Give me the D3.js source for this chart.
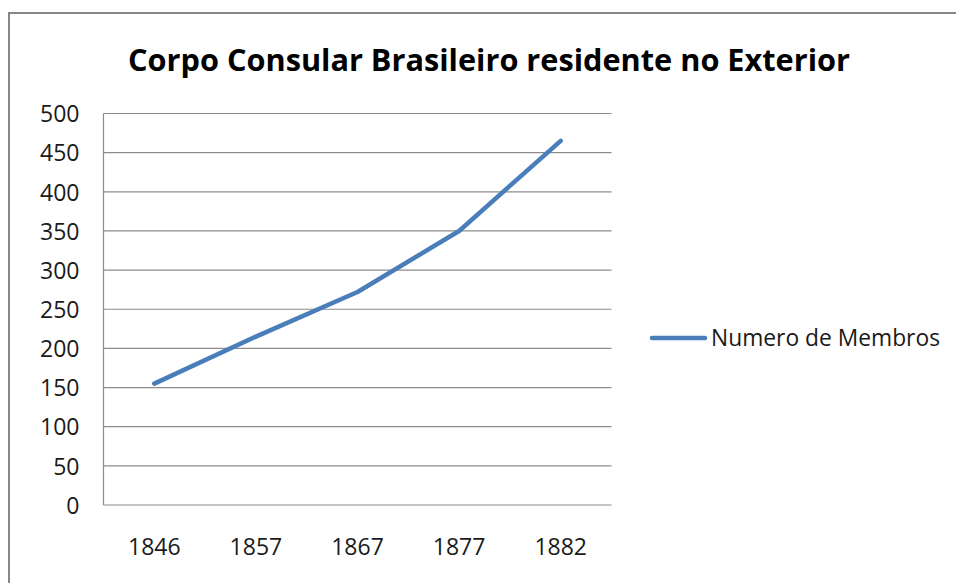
<!DOCTYPE html>
<html><head><meta charset="utf-8">
<script src="https://cdn.jsdelivr.net/npm/d3@7"></script>
<style>
body{margin:0;background:#fff;}
svg{display:block;font-family:"Open Sans","Noto Sans",sans-serif;}
</style></head>
<body>
<svg id="c" width="956" height="583"></svg>
<script>
const title = "Corpo Consular Brasileiro residente no Exterior";
const seriesName = "Numero de Membros";
const years = ["1846","1857","1867","1877","1882"];
const membros = [155, 215, 272, 350, 465];
const yTicks = [0,50,100,150,200,250,300,350,400,450,500];

(function(){
const svg = d3.select("#c");
// frame
svg.append("rect").attr("x",9).attr("y",13).attr("width",960).attr("height",600)
  .attr("fill","#fff").attr("stroke","#868686").attr("stroke-width",2);

const pLeft=103.5, pRight=611.5, pTop=113.5, pBottom=505;
const x = d3.scaleBand().domain(years).range([pLeft,pRight]);
const y = d3.scaleLinear().domain([0,500]).range([pBottom,pTop]);

// gridlines
svg.append("g").selectAll("line").data(yTicks).join("line")
  .attr("x1",pLeft).attr("x2",pRight).attr("y1",d=>y(d)).attr("y2",d=>y(d))
  .attr("stroke","#8c8c8c").attr("stroke-width",1.2);
// y axis line
svg.append("line").attr("x1",pLeft).attr("x2",pLeft).attr("y1",pTop).attr("y2",pBottom)
  .attr("stroke","#8c8c8c").attr("stroke-width",1.2);

// y axis labels
const yAxis = d3.axisLeft(y).tickValues(yTicks).tickSize(0).tickPadding(24);
const gy = svg.append("g").attr("transform",`translate(${pLeft},0)`).call(yAxis);
gy.select(".domain").remove();
gy.selectAll("text").attr("font-size",23).attr("fill","#1a1a1a").attr("font-family","'Open Sans'")
  .attr("dy","0.36em");

// x axis labels
const xAxis = d3.axisBottom(x).tickSize(0).tickPadding(34);
const gx = svg.append("g").attr("transform",`translate(0,${pBottom})`).call(xAxis);
gx.select(".domain").remove();
gx.selectAll("text").attr("font-size",23).attr("fill","#1a1a1a").attr("font-family","'Open Sans'");

// line
const line = d3.line().x((d,i)=>x(years[i])+x.bandwidth()/2).y(d=>y(d));
svg.append("path").datum(membros).attr("d",line).attr("fill","none")
  .attr("stroke","#4a7ebb").attr("stroke-width",4.5).attr("stroke-linecap","round").attr("stroke-linejoin","round");

// title
svg.append("text").attr("x",489).attr("y",71).attr("text-anchor","middle")
  .attr("font-size",30).attr("font-weight","bold").attr("fill","#000")
  .attr("textLength",722).attr("lengthAdjust","spacingAndGlyphs").text(title);

// legend
svg.append("line").attr("x1",652).attr("x2",705).attr("y1",338).attr("y2",338)
  .attr("stroke","#4a7ebb").attr("stroke-width",4.5).attr("stroke-linecap","round");
svg.append("text").attr("x",711).attr("y",346).attr("font-size",23).attr("fill","#1a1a1a")
  .attr("textLength",229).attr("lengthAdjust","spacingAndGlyphs").text(seriesName);
})();
</script>
</body></html>
